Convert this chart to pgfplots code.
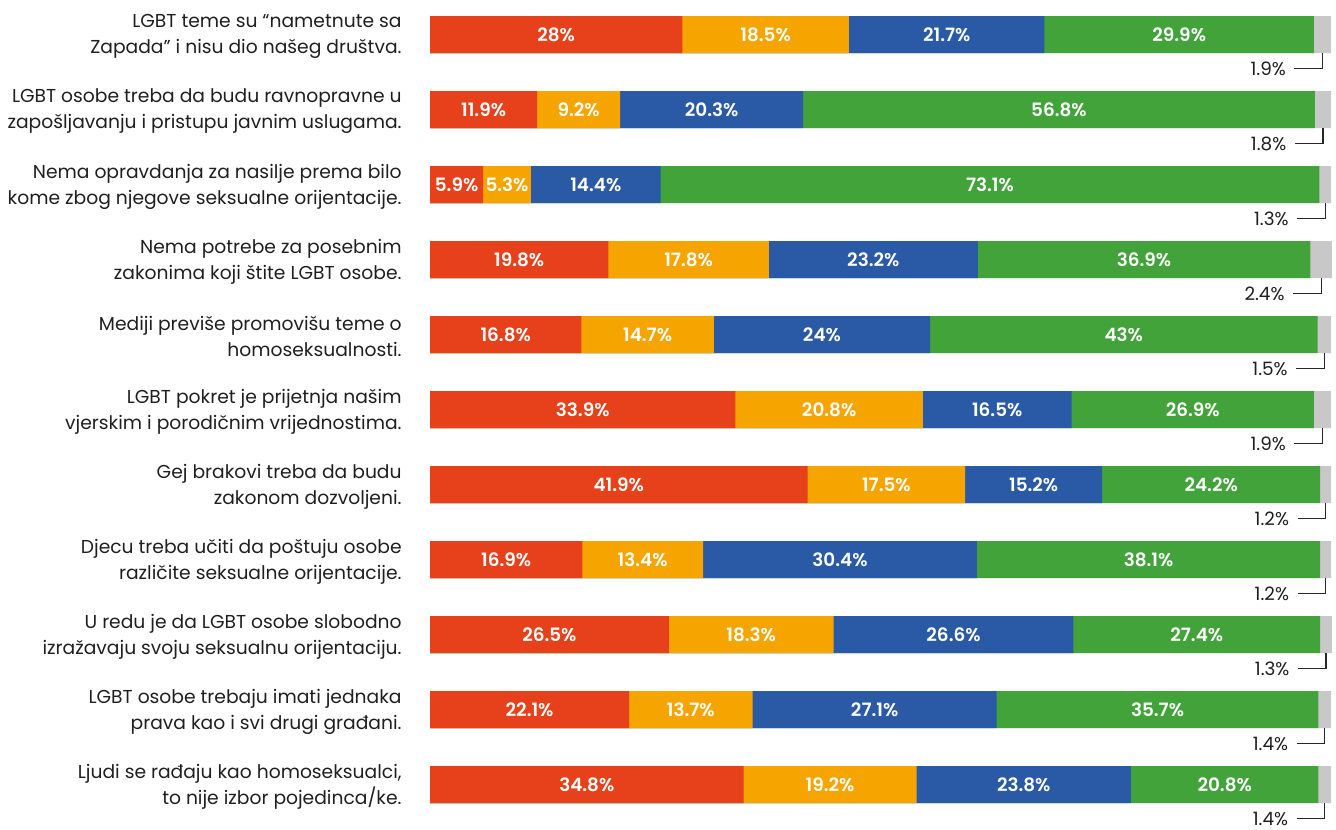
\documentclass[border=0pt]{standalone}
\usepackage{fontspec}
\setmainfont{Poppins}
\newfontfamily\semib{Poppins}[UprightFont={* SemiBold}]
\usepackage{pgfplots}
\usepackage{pgfplotstable}
\pgfplotsset{compat=1.18}

\definecolor{cRed}{HTML}{E6411A}
\definecolor{cOra}{HTML}{F6A500}
\definecolor{cBlu}{HTML}{2A5AA6}
\definecolor{cGrn}{HTML}{42A33A}
\definecolor{cGry}{HTML}{C8C8C8}

% leader line from grey segment down and to the left
\pgfdeclareplotmark{leader}{%
  \pgfpathmoveto{\pgfpoint{0pt}{-9.25pt}}%
  \pgfpathlineto{\pgfpoint{0pt}{-17pt}}%
  \pgfpathlineto{\pgfpoint{-14pt}{-17pt}}%
  \pgfusepathqstroke}

\pgfplotstableread{
idx a b c d e
0 28 18.5 21.7 29.9 1.9
1 11.9 9.2 20.3 56.8 1.8
2 5.9 5.3 14.4 73.1 1.3
3 19.8 17.8 23.2 36.9 2.4
4 16.8 14.7 24 43 1.5
5 33.9 20.8 16.5 26.9 1.9
6 41.9 17.5 15.2 24.2 1.2
7 16.9 13.4 30.4 38.1 1.2
8 26.5 18.3 26.6 27.4 1.3
9 22.1 13.7 27.1 35.7 1.4
10 34.8 19.2 23.8 20.8 1.4
}\data
% cumulative ends and segment centres
\pgfplotstablecreatecol[create col/expr={\thisrow{a}+\thisrow{b}}]{sb}{\data}
\pgfplotstablecreatecol[create col/expr={\thisrow{sb}+\thisrow{c}}]{sc}{\data}
\pgfplotstablecreatecol[create col/expr={\thisrow{sc}+\thisrow{d}}]{sd}{\data}
\pgfplotstablecreatecol[create col/expr={\thisrow{sd}+\thisrow{e}}]{se}{\data}
\pgfplotstablecreatecol[create col/expr={\thisrow{a}/2}]{ca}{\data}
\pgfplotstablecreatecol[create col/expr={\thisrow{a}+\thisrow{b}/2}]{cb}{\data}
\pgfplotstablecreatecol[create col/expr={\thisrow{sb}+\thisrow{c}/2}]{cc}{\data}
\pgfplotstablecreatecol[create col/expr={\thisrow{sc}+\thisrow{d}/2}]{cd}{\data}
\pgfplotstablecreatecol[create col/expr={\thisrow{sd}+\thisrow{e}/2}]{ce}{\data}

\begin{document}
\begin{tikzpicture}
\begin{axis}[
    at={(215pt,0pt)}, anchor=south west,
    scale only axis,
    width=450.5pt, height=414.5pt,
    xmin=0, xmax=100,
    ymin=-0.46, ymax=10.593,
    y dir=reverse,
    axis line style={draw=none},
    tick style={draw=none},
    major tick length=0pt,
    xtick=\empty,
    ytick={0,...,10},
    yticklabels={
      {LGBT teme su “nametnute sa\\Zapada” i nisu dio našeg društva.},
      {LGBT osobe treba da budu ravnopravne u\\zapošljavanju i pristupu javnim uslugama.},
      {Nema opravdanja za nasilje prema bilo\\kome zbog njegove seksualne orijentacije.},
      {Nema potrebe za posebnim\\zakonima koji štite LGBT osobe.},
      {Mediji previše promovišu teme o\\homoseksualnosti.},
      {LGBT pokret je prijetnja našim\\vjerskim i porodičnim vrijednostima.},
      {Gej brakovi treba da budu\\zakonom dozvoljeni.},
      {Djecu treba učiti da poštuju osobe\\različite seksualne orijentacije.},
      {U redu je da LGBT osobe slobodno\\izražavaju svoju seksualnu orijentaciju.},
      {LGBT osobe trebaju imati jednaka\\prava kao i svi drugi građani.},
      {Ljudi se rađaju kao homoseksualci,\\to nije izbor pojedinca/ke.}
    },
    yticklabel style={align=right, inner sep=0pt, xshift=-14pt, yshift=-1pt, text=black!88,
      font=\fontsize{9.35}{13}\selectfont},
    clip=false,
    every node near coord/.append style={anchor=center},
  ]
  \addplot[xbar, bar width=18.5pt, bar shift=0pt, fill=cGry, draw=none] table[x=se, y=idx] {\data};
  \addplot[xbar, bar width=18.5pt, bar shift=0pt, fill=cGrn, draw=none] table[x=sd, y=idx] {\data};
  \addplot[xbar, bar width=18.5pt, bar shift=0pt, fill=cBlu, draw=none] table[x=sc, y=idx] {\data};
  \addplot[xbar, bar width=18.5pt, bar shift=0pt, fill=cOra, draw=none] table[x=sb, y=idx] {\data};
  \addplot[xbar, bar width=18.5pt, bar shift=0pt, fill=cRed, draw=none] table[x=a, y=idx] {\data};

  \pgfplotsset{seglab/.style={draw=none, mark=none, point meta=explicit symbolic,
      nodes near coords={\pgfplotspointmeta\%},
      nodes near coords style={anchor=center, text=white, inner sep=0pt,
        font=\semib\fontsize{9.2}{11}\selectfont}}}
  \addplot[seglab] table[x=ca, y=idx, meta=a] {\data};
  \addplot[seglab] table[x=cb, y=idx, meta=b] {\data};
  \addplot[seglab] table[x=cc, y=idx, meta=c] {\data};
  \addplot[seglab] table[x=cd, y=idx, meta=d] {\data};

  \addplot[only marks, mark=leader, color=black!85, line width=0.6pt,
      point meta=explicit symbolic,
      nodes near coords={\pgfplotspointmeta\%},
      nodes near coords style={anchor=east, xshift=-18pt, yshift=-17pt, inner sep=0pt,
        text=black!88, font=\fontsize{9.2}{11}\selectfont}]
    table[x=ce, y=idx, meta=e] {\data};
\end{axis}
\pgfresetboundingbox
\path (0,0) rectangle (668pt,414.5pt);
\end{tikzpicture}
\end{document}
